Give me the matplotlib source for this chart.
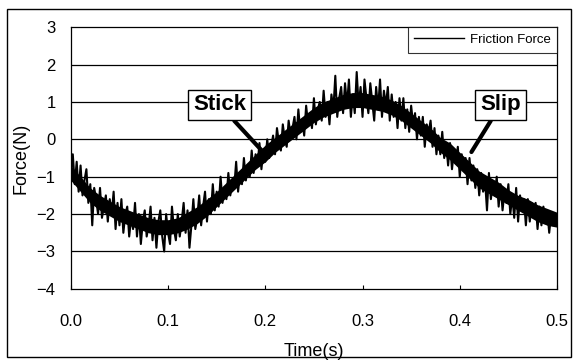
import numpy as np
import matplotlib
matplotlib.use("Agg")
import matplotlib.pyplot as plt
from matplotlib.patches import Rectangle

plt.rcParams['font.family'] = ['Liberation Sans', 'DejaVu Sans']

T_START = 0.0
T_STEP = 0.002
force = [
    -0.9, -0.4, -1.2, -0.6, -1.4,
    -0.7, -1.5, -1.1, -0.8, -1.7,
    -1.2, -2.3, -1.3, -1.6, -2.0,
    -1.3, -2.1, -1.8, -1.5, -2.2,
    -1.6, -2.0, -1.4, -2.4, -1.7,
    -2.3, -1.6, -2.5, -2.0, -1.8,
    -2.6, -2.1, -2.4, -1.7, -2.6,
    -2.0, -2.8, -2.2, -1.9, -2.6,
    -2.3, -1.8, -2.7, -2.1, -2.9,
    -2.2, -1.9, -2.6, -3.0, -2.0,
    -2.5, -2.8, -1.8, -2.4, -2.7,
    -2.0, -2.6, -2.2, -1.7, -2.5,
    -1.9, -2.9, -2.3, -1.6, -2.4,
    -2.1, -1.5, -2.3, -1.8, -1.4,
    -2.2, -1.6, -2.0, -1.2, -1.9,
    -1.4, -1.8, -1.0, -1.7, -1.3,
    -1.6, -0.9, -1.5, -1.1, -1.3,
    -0.6, -1.4, -0.9, -1.2, -0.5,
    -1.1, -0.7, -1.0, -0.3, -0.9,
    -0.4, -0.7, -0.1, -0.8, -0.3,
    -0.6, 0.0, -0.5, -0.2, 0.1,
    -0.4, 0.3, -0.1, -0.3, 0.4,
    0.0, -0.2, 0.5, 0.1, 0.3,
    0.6, 0.0, 0.8, 0.2, 0.5,
    0.1, 0.9, 0.4, 0.7, 0.3,
    1.1, 0.4, 0.8, 1.0, 0.5,
    1.3, 0.6, 1.0, 0.4, 1.2,
    0.8, 1.7, 0.6, 1.1, 1.4,
    0.7, 1.5, 0.9, 1.6, 0.6,
    1.2, 0.7, 1.8, 0.9, 1.4,
    0.6, 1.6, 1.1, 0.7, 1.5,
    1.0, 0.5, 1.4, 0.8, 1.6,
    0.6, 1.3, 0.9, 1.4, 0.5,
    1.2, 0.6, 1.0, 0.3, 1.1,
    0.5, 1.1, 0.3, 0.8, 0.2,
    0.9, 0.4, 0.7, 0.0, 0.6,
    0.1, 0.6, -0.2, 0.4, 0.2,
    0.5, -0.2, 0.3, -0.4, 0.1,
    -0.4, 0.2, -0.5, -0.1, -0.7,
    -0.1, -0.8, -0.3, -0.6, -0.2,
    -1.0, -0.4, -0.8, -0.5, -1.2,
    -0.5, -1.1, -0.7, -1.3, -0.8,
    -1.5, -0.9, -1.4, -1.1, -1.9,
    -0.9, -1.6, -1.2, -1.5, -1.0,
    -1.8, -1.2, -1.9, -1.4, -1.7,
    -1.2, -2.0, -1.5, -2.1, -1.3,
    -2.2, -1.5, -1.9, -1.6, -2.3,
    -1.6, -2.2, -1.7, -2.0, -1.7,
    -2.4, -1.8, -2.3, -1.8, -2.2,
    -1.9, -2.5, -2.0, -2.3, -2.1,
    -2.2,
]
time = T_START + T_STEP * np.arange(len(force))

# dense (solid black) core of the trace, every 10 ms
band_step = 0.01
band_low = [
    -1.1, -1.4, -1.7, -1.9, -2.05, -2.2, -2.3, -2.4, -2.5, -2.55,
    -2.55, -2.5, -2.4, -2.25, -2.05, -1.8, -1.55, -1.3, -1.05, -0.8,
    -0.6, -0.35, -0.15, 0.05, 0.25, 0.45, 0.6, 0.7, 0.8, 0.85,
    0.85, 0.8, 0.75, 0.65, 0.5, 0.3, 0.1, -0.1, -0.35, -0.55,
    -0.8, -1.05, -1.3, -1.45, -1.6, -1.75, -1.9, -2.05, -2.2, -2.3,
    -2.35,
]
band_high = [
    -0.7, -1.0, -1.3, -1.5, -1.65, -1.8, -1.9, -2.0, -2.1, -2.15,
    -2.15, -2.1, -1.95, -1.8, -1.6, -1.4, -1.15, -0.9, -0.65, -0.4,
    -0.15, 0.05, 0.25, 0.45, 0.65, 0.85, 1.0, 1.1, 1.2, 1.25,
    1.25, 1.2, 1.15, 1.05, 0.9, 0.7, 0.5, 0.3, 0.05, -0.1,
    -0.35, -0.6, -0.85, -1.0, -1.15, -1.35, -1.5, -1.6, -1.75, -1.85,
    -1.95,
]
band_time = band_step * np.arange(len(band_low))

x_ticks = [0.0, 0.1, 0.2, 0.3, 0.4, 0.5]
x_labels = ["0.0", "0.1", "0.2", "0.3", "0.4", "0.5"]
y_ticks = [-4, -3, -2, -1, 0, 1, 2, 3]
y_labels = ["\u22124", "\u22123", "\u22122", "\u22121", "0", "1", "2", "3"]

fig = plt.figure(figsize=(5.76, 3.62), dpi=100)
ax = fig.add_axes([0.123, 0.202, 0.844, 0.723])

# outer frame of the scanned figure
fig.patches.append(Rectangle((0.012, 0.014), 0.98, 0.96, transform=fig.transFigure,
                             fill=False, edgecolor='black', linewidth=1.0))

for yv in y_ticks[1:-1]:
    ax.axhline(yv, color='black', linewidth=0.9, zorder=1)

ax.fill_between(band_time, band_low, band_high, color='black', linewidth=0, zorder=2)
ax.plot(time, force, color='black', linewidth=1.5, label='Friction Force', zorder=3)
ax.plot(time[[0, -1]], np.array(force)[[0, -1]], 'o', color='black', markersize=5, zorder=4)

ax.set_xlim(0, 0.5)
ax.set_ylim(-4, 3)
ax.set_xticks(x_ticks)
ax.set_xticklabels(x_labels, fontsize=12)
ax.set_yticks(y_ticks)
ax.set_yticklabels(y_labels, fontsize=12)
ax.tick_params(axis='x', direction='in', length=3, width=0.8, pad=18)
ax.tick_params(axis='y', length=0, pad=11)
for s in ax.spines.values():
    s.set_linewidth(0.9)

ax.set_xlabel("Time(s)", fontsize=13, labelpad=10)
ax.set_ylabel("Force(N)", fontsize=13, labelpad=5)

leg = ax.legend(loc='upper right', fontsize=9.5, frameon=True, fancybox=False,
                handlelength=3.8, handletextpad=0.4, borderaxespad=0.0, borderpad=0.5)
leg.get_frame().set_edgecolor('black')
leg.get_frame().set_linewidth(0.8)
leg.get_lines()[0].set_linewidth(1.0)

box = dict(boxstyle='square,pad=0.22', facecolor='white', edgecolor='black', linewidth=1.0)
arrow = dict(arrowstyle='-', color='black', linewidth=3, shrinkA=0, shrinkB=0)
ax.annotate("Stick", xy=(0.196, -0.29), xytext=(0.153, 0.92), fontsize=16, fontweight='bold',
            ha='center', va='center', bbox=box, arrowprops=arrow, zorder=5)
ax.annotate("Slip", xy=(0.412, -0.34), xytext=(0.442, 0.92), fontsize=16, fontweight='bold',
            ha='center', va='center', bbox=box, arrowprops=arrow, zorder=5)

fig.savefig("out.png", dpi=100)
